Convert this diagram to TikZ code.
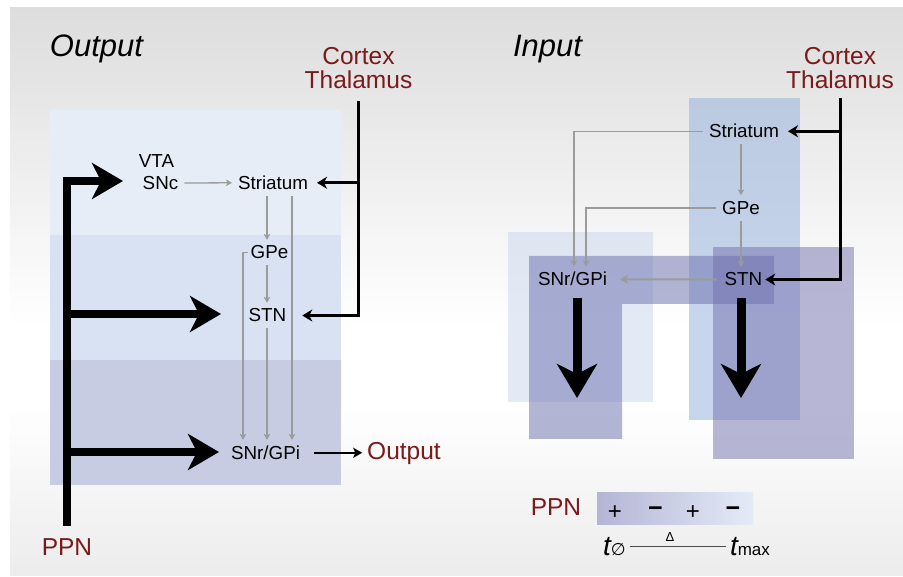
\documentclass[tikz,border=0pt]{standalone}
\usepackage{fontspec}
\setmainfont{Liberation Sans}
\newfontfamily\djv{DejaVu Sans}
\usetikzlibrary{arrows.meta,calc}
\definecolor{dred}{RGB}{122,26,26}
\definecolor{agray}{RGB}{155,155,155}
\definecolor{bgtop}{RGB}{221,221,221}
\definecolor{bgbot}{RGB}{236,236,236}
\definecolor{bandA}{RGB}{231,237,247}
\definecolor{bandB}{RGB}{217,226,242}
\definecolor{bandC}{RGB}{199,204,226}
\definecolor{colA}{RGB}{201,215,239}
\definecolor{colB}{RGB}{105,109,173}
\definecolor{colC}{RGB}{147,175,221}
\definecolor{colD}{RGB}{113,111,173}
\definecolor{legL}{RGB}{180,181,213}
\definecolor{legM}{RGB}{190,197,226}
\definecolor{legR}{RGB}{228,235,247}
\begin{document}
\begin{tikzpicture}[x=1pt,y=-1pt,
  lbl/.style={inner sep=0pt,outer sep=6pt,anchor=base,font=\fontsize{18.8}{20}\selectfont},
  redlbl/.style={inner sep=0pt,outer sep=5pt,anchor=base,text=dred,font=\fontsize{24.5}{26}\selectfont},
  ttl/.style={inner sep=0pt,anchor=base,font=\fontsize{31}{32}\selectfont\itshape},
  garrow/.style={draw=agray,line width=1.3pt,-{Stealth[length=6pt,width=6.5pt,inset=1.5pt]}},
  garrowthick/.style={draw=agray,line width=2pt,-{Stealth[length=8pt,width=9pt,inset=2pt]}},
  ctxarrow/.style={line width=3pt,-{Stealth[length=10pt,width=12pt,inset=3pt]}},
  outarrow/.style={line width=2.5pt,-{Stealth[length=9pt,width=10pt,inset=2pt]}},
  ppnarrow/.style={line width=8pt,-{Stealth[length=31pt,width=36pt,inset=9pt]}},
  bigdown/.style={line width=9pt,-{Stealth[length=34pt,width=40pt,inset=10pt]}},
  sgn/.style={inner sep=0pt,anchor=base,font=\fontsize{24}{24}\selectfont},
  sgnb/.style={inner sep=0pt,anchor=base,font=\fontsize{25}{25}\selectfont\bfseries},
  tlbl/.style={inner sep=0pt,outer sep=4pt,anchor=base west,font=\fontsize{28}{28}\selectfont\itshape},
]
\useasboundingbox (0,0) rectangle (903,577);
\fill[white] (0,0) rectangle (903,577);
\foreach \i in {0,...,63}{
  \pgfmathtruncatemacro\pc{100-\i*100/64}
  \pgfmathsetmacro\ya{7+\i*5}
  \fill[bgtop!\pc!white] (10,\ya) rectangle (903,\ya+5.6);
}
\fill[white] (10,326) rectangle (903,400);
\foreach \i in {0,...,35}{
  \pgfmathtruncatemacro\pc{\i*100/35}
  \pgfmathsetmacro\ya{400+\i*5}
  \fill[bgbot!\pc!white] (10,\ya) rectangle (903,{min(\ya+5.6,576)});
}

% ---------------- left panel: Output ----------------
\fill[bandA] (50,110) rectangle (341,235);
\fill[bandB] (50,235) rectangle (341,360);
\fill[bandC] (50,360) rectangle (341,485);

\node[ttl] (tout) at (96.5,56.5) {Output};
\node[redlbl] (lctx) at (358.5,65) {Cortex};
\node[redlbl] (lthal) at (358.5,88.5) {Thalamus};

\node[lbl] (lvta) at (156.5,168) {VTA};
\node[lbl] (lsnc) at (160.5,189.5) {SNc};
\node[lbl] (lstr) at (273,189.5) {Striatum};
\node[lbl] (lgpe) at (269.5,259) {GPe};
\node[lbl] (lstn) at (267.5,322) {STN};
\node[lbl] (lsnr) at (265.5,459.5) {SNr/GPi};
\node[redlbl] (lout) at (404,460) {Output};
\node[redlbl] (lppn) at (67,555) {PPN};

\draw[garrow] (lsnc.east) -- (lstr.west);
\draw[garrow] ([xshift=-6pt]lstr.south) -- ([xshift=-2.5pt]lgpe.north);
\draw[garrow] ([xshift=-2.5pt]lgpe.south) -- ([xshift=-0.5pt]lstn.north);
\draw[garrow] ([xshift=-0.5pt]lstn.south) -- ([xshift=1.5pt]lsnr.north);
\draw[garrow] ([xshift=19pt]lstr.south) -- ([xshift=26.5pt]lsnr.north);
\draw[garrow] ([xshift=3pt]lgpe.west) -| ([xshift=-22.5pt]lsnr.north);

\draw[ctxarrow] ([yshift=-7.5pt]lthal.south) |- ([xshift=10pt]lstn.east);
\draw[ctxarrow] (lthal.south |- lstr.east) -- ([xshift=3pt]lstr.east);
\draw[outarrow] ([xshift=8pt]lsnr.east) -- (lsnr.east -| lout.west);

\coordinate (pt1) at (123,181);
\coordinate (pt2) at (221,314);
\coordinate (pt3) at (219,452);
\draw[ppnarrow] ([yshift=7.5pt]lppn.north) |- (pt1);
\draw[ppnarrow] (lppn.north |- pt2) -- (pt2);
\draw[ppnarrow] (lppn.north |- pt3) -- (pt3);

% ---------------- right panel: Input ----------------
\fill[colA,fill opacity=0.5] (508,232) rectangle (653,402);
\fill[colC,fill opacity=0.5] (689,98) rectangle (800,420);
\fill[colB,fill opacity=0.5] (529,256) -- (774,256) -- (774,304) -- (622,304) -- (622,439) -- (529,439) -- cycle;
\fill[colD,fill opacity=0.5] (713,247) rectangle (854,459);

\node[ttl] (tin) at (547.5,57) {Input};
\node[redlbl] (rctx) at (840,65) {Cortex};
\node[redlbl] (rthal) at (840,88.5) {Thalamus};

\node[lbl] (rstr) at (744,138) {Striatum};
\node[lbl] (rgpe) at (741,214.5) {GPe};
\node[lbl] (rstn) at (743.5,286) {STN};
\node[lbl] (rsnr) at (572.5,286) {SNr/GPi};

\draw[garrow] ([xshift=-3pt]rstr.south) -- (rgpe.north);
\draw[garrow] (rgpe.south) -- ([xshift=-2.5pt]rstn.north);
\draw[garrow] (rstr.west) -| ([xshift=1.5pt]rsnr.north);
\draw[garrow] (rgpe.west) -| ([xshift=13.5pt]rsnr.north);
\draw[garrowthick] ([xshift=-2pt]rstn.west) -- ([xshift=7pt]rsnr.east);

\draw[ctxarrow] ([yshift=-4.5pt]rthal.south) |- ([xshift=-3pt]rstn.east);
\draw[ctxarrow] (rthal.south |- rstr.east) -- ([xshift=3pt]rstr.east);

\coordinate (rend1) at (577,398);
\coordinate (rend2) at (741,398);
\draw[bigdown] ([xshift=4.5pt,yshift=-5.5pt]rsnr.south) -- (rend1);
\draw[bigdown] ([xshift=-2.5pt,yshift=-6pt]rstn.south) -- (rend2);

% ---------------- legend ----------------
\node[redlbl] (lgppn) at (556,515) {PPN};
\node[inner sep=0pt,minimum width=156pt,minimum height=32pt,left color=legL,middle color=legM,right color=legR] (legbar) at (675,508) {};
\node[sgn] (s1) at (615,519.5) {+};
\node[sgnb] (s2) at (655.5,516) {−};
\node[sgn] (s3) at (693,519.5) {+};
\node[sgnb] (s4) at (733,516) {−};
\node[tlbl] (t0) at (599,555) {t{\upshape\djv\fontsize{17}{17}\selectfont ∅}};
\node[tlbl] (tmax) at (726,555) {t{\upshape\fontsize{17}{17}\selectfont max}};
\draw[line width=0.8pt,draw=black!70] (t0.east) -- (t0.east -| tmax.west);
\node[inner sep=0pt,font=\fontsize{13}{13}\selectfont] (delta) at (670,537.5) {Δ};
\end{tikzpicture}
\end{document}
